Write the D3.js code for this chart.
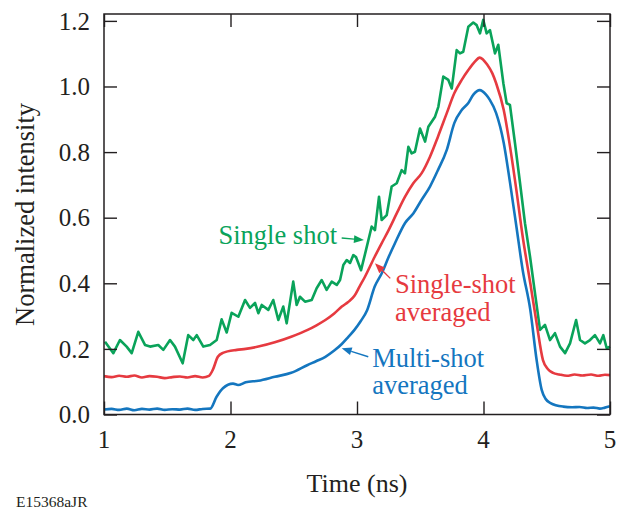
<!DOCTYPE html>
<html>
<head>
<meta charset="utf-8">
<script src="https://cdn.jsdelivr.net/npm/d3@7"></script>
<style>
  body { margin: 0; background: #fff; }
  text { font-family: "Liberation Serif", "Times New Roman", serif; fill: #231f20; }
</style>
</head>
<body>
<svg width="618" height="510"></svg>
<script>
// time (ns) / normalized intensity
var singleShotTime = [1.008, 1.074, 1.126, 1.179, 1.219, 1.271, 1.324, 1.364, 1.429, 1.469, 1.522, 1.561, 1.622, 1.666, 1.706, 1.733, 1.785, 1.838, 1.891, 1.930, 1.970, 2.009,
  2.062, 2.115, 2.154, 2.194, 2.220, 2.247, 2.299, 2.338, 2.378, 2.417, 2.444, 2.496, 2.523, 2.549, 2.589, 2.642, 2.681, 2.721, 2.760, 2.800, 2.840, 2.866, 2.892, 2.919, 2.945, 2.971,
  2.992, 3.032, 3.071, 3.116, 3.142, 3.174, 3.195, 3.235, 3.274, 3.314, 3.353, 3.379, 3.406, 3.432, 3.458, 3.498, 3.538, 3.564, 3.617, 3.643, 3.682, 3.722, 3.749, 3.788, 3.814, 3.840,
  3.880, 3.919, 3.946, 3.972, 3.998, 4.025, 4.051, 4.091, 4.117, 4.157, 4.183, 4.209, 4.249, 4.289, 4.328, 4.368, 4.407, 4.447, 4.486, 4.526, 4.565, 4.605, 4.645, 4.684, 4.732, 4.763,
  4.802, 4.842, 4.881, 4.921, 4.947, 4.974, 5.000];
var singleShot = [0.222, 0.187, 0.227, 0.207, 0.187, 0.252, 0.212, 0.207, 0.212, 0.197, 0.227, 0.207, 0.156, 0.242, 0.227, 0.242, 0.207, 0.212, 0.227, 0.290, 0.250, 0.310,
  0.298, 0.349, 0.325, 0.340, 0.309, 0.334, 0.319, 0.349, 0.288, 0.329, 0.278, 0.405, 0.334, 0.359, 0.344, 0.349, 0.385, 0.410, 0.380, 0.405, 0.395, 0.410, 0.456, 0.471, 0.462, 0.486,
  0.480, 0.440, 0.501, 0.573, 0.562, 0.664, 0.593, 0.608, 0.695, 0.705, 0.745, 0.735, 0.816, 0.796, 0.801, 0.872, 0.832, 0.877, 0.908, 0.938, 1.030, 1.020, 0.994, 1.111, 1.101, 1.106,
  1.182, 1.195, 1.187, 1.162, 1.203, 1.162, 1.172, 1.101, 1.127, 1.010, 0.949, 0.944, 0.827, 0.705, 0.583, 0.481, 0.370, 0.258, 0.273, 0.227, 0.248, 0.207, 0.187, 0.217, 0.288, 0.227,
  0.217, 0.227, 0.242, 0.217, 0.242, 0.202, 0.207];

var singleAvgTime = [1.00, 1.06, 1.12, 1.18, 1.24, 1.30, 1.36, 1.42, 1.48, 1.54, 1.60, 1.66, 1.72, 1.78, 1.83, 1.86, 1.90, 1.94, 2.05, 2.12, 2.22, 2.35, 2.48, 2.61, 2.68, 2.75, 2.82, 2.88,
  2.93, 2.98, 3.02, 3.063, 3.14, 3.195, 3.25, 3.314, 3.38, 3.445, 3.51, 3.577, 3.64, 3.709, 3.77, 3.828, 3.88, 3.93, 3.97, 4.03, 4.07, 4.10, 4.16, 4.21, 4.26, 4.31, 4.37, 4.42, 4.47,
  4.51, 4.55, 4.60, 4.66, 4.72, 4.78, 4.85, 4.91, 4.96, 5.00];
var singleAvg = [0.117, 0.114, 0.118, 0.115, 0.119, 0.113, 0.117, 0.115, 0.111, 0.114, 0.116, 0.113, 0.117, 0.113, 0.118, 0.136, 0.176, 0.188, 0.197, 0.200, 0.207, 0.220, 0.237, 0.258, 0.272, 0.288, 0.308, 0.329,
  0.343, 0.362, 0.390, 0.420, 0.481, 0.522, 0.562, 0.613, 0.664, 0.705, 0.735, 0.786, 0.847, 0.918, 0.980, 1.020, 1.050, 1.075, 1.088, 1.066, 1.040, 1.010, 0.928, 0.816, 0.684, 0.542, 0.400, 0.278, 0.166,
  0.138, 0.127, 0.122, 0.118, 0.122, 0.119, 0.122, 0.118, 0.121, 0.120];

var multiAvgTime = [1.00, 1.06, 1.12, 1.18, 1.24, 1.30, 1.36, 1.42, 1.48, 1.54, 1.60, 1.66, 1.72, 1.78, 1.84, 1.89, 1.94, 2.02, 2.06, 2.12, 2.22, 2.35, 2.48, 2.61, 2.68, 2.75, 2.82, 2.88,
  2.93, 2.98, 3.03, 3.08, 3.14, 3.195, 3.25, 3.30, 3.38, 3.445, 3.51, 3.577, 3.64, 3.709, 3.77, 3.828, 3.88, 3.92, 3.97, 4.02, 4.05, 4.10, 4.16, 4.21, 4.26, 4.31, 4.37, 4.42, 4.46,
  4.49, 4.53, 4.63, 4.70, 4.76, 4.82, 4.87, 4.92, 4.96, 5.00];
var multiAvg = [0.015, 0.017, 0.014, 0.018, 0.013, 0.017, 0.015, 0.018, 0.014, 0.016, 0.015, 0.018, 0.014, 0.017, 0.018, 0.054, 0.080, 0.094, 0.090, 0.098, 0.103, 0.115, 0.127, 0.151, 0.163, 0.176, 0.195, 0.215,
  0.236, 0.258, 0.285, 0.318, 0.390, 0.430, 0.480, 0.522, 0.584, 0.613, 0.654, 0.695, 0.745, 0.806, 0.889, 0.928, 0.950, 0.975, 0.989, 0.975, 0.959, 0.919, 0.828, 0.706, 0.573, 0.440, 0.319, 0.166, 0.075,
  0.048, 0.035, 0.024, 0.022, 0.023, 0.020, 0.021, 0.018, 0.021, 0.025];

var xTicks = [1, 2, 3, 4, 5];
var yTicks = [0, 0.2, 0.4, 0.6, 0.8, 1.0, 1.2];

var green = "#0aa35a", red = "#e63a40", blue = "#1476bf";

var svg = d3.select("svg"),
    plot = {left: 104, right: 610, top: 14, bottom: 414.5};

var x = d3.scaleLinear().domain([1, 5]).range([plot.left, plot.right]);
var y = d3.scaleLinear().domain([0, 1.221]).range([plot.bottom, plot.top]);

var line = d3.line()
    .x(function(d) { return x(d[0]); })
    .y(function(d) { return y(d[1]); });

function pairs(t, v) { return t.map(function(d, i) { return [d, v[i]]; }); }

var series = [
  {data: pairs(singleShotTime, singleShot), color: green, curve: d3.curveLinear},
  {data: pairs(singleAvgTime, singleAvg), color: red, curve: d3.curveMonotoneX},
  {data: pairs(multiAvgTime, multiAvg), color: blue, curve: d3.curveMonotoneX}
];

svg.selectAll(".series")
  .data(series)
  .enter().append("path")
    .attr("class", "series")
    .attr("fill", "none")
    .attr("stroke", function(d) { return d.color; })
    .attr("stroke-width", 2.6)
    .attr("stroke-linejoin", "round")
    .attr("d", function(d) { return line.curve(d.curve)(d.data); });

// axes, ticks pointing inward on all four sides
var tickLen = 13;
svg.append("g")
    .attr("transform", "translate(0," + plot.bottom + ")")
    .call(d3.axisTop(x).tickValues(xTicks).tickSize(tickLen).tickFormat(""));
svg.append("g")
    .attr("transform", "translate(0," + plot.top + ")")
    .call(d3.axisBottom(x).tickValues(xTicks).tickSize(tickLen).tickFormat(""));
svg.append("g")
    .attr("transform", "translate(" + plot.left + ",0)")
    .call(d3.axisRight(y).tickValues(yTicks).tickSize(tickLen).tickFormat(""));
svg.append("g")
    .attr("transform", "translate(" + plot.right + ",0)")
    .call(d3.axisLeft(y).tickValues(yTicks).tickSize(tickLen).tickFormat(""));
svg.selectAll(".domain").remove();
svg.selectAll(".tick line").attr("stroke", "#231f20").attr("stroke-width", 1.4);

svg.append("rect")
    .attr("x", plot.left).attr("y", plot.top)
    .attr("width", plot.right - plot.left).attr("height", plot.bottom - plot.top)
    .attr("fill", "none").attr("stroke", "#231f20").attr("stroke-width", 1.5);

svg.selectAll(".xlab")
  .data(xTicks)
  .enter().append("text")
    .attr("x", function(d) { return x(d); })
    .attr("y", 448)
    .attr("text-anchor", "middle")
    .style("font-size", "25px")
    .text(function(d) { return d; });

svg.selectAll(".ylab")
  .data(yTicks)
  .enter().append("text")
    .attr("x", 90)
    .attr("y", function(d) { return y(d); })
    .attr("dy", "0.35em")
    .attr("text-anchor", "end")
    .style("font-size", "25px")
    .text(function(d) { return d3.format(".1f")(d); });

svg.append("text")
    .attr("x", x(3))
    .attr("y", 492)
    .attr("text-anchor", "middle")
    .style("font-size", "26px")
    .text("Time (ns)");

svg.append("text")
    .attr("transform", "translate(34," + y(0.61) + ") rotate(-90)")
    .attr("text-anchor", "middle")
    .style("font-size", "26.5px")
    .text("Normalized intensity");

svg.append("text")
    .attr("x", 16)
    .attr("y", 507)
    .style("font-size", "15.5px")
    .text("E15368aJR");

// annotations with arrows (positions in data units)
var notes = [
  {lines: ["Single shot"], t: 2.842, v: 0.52, anchor: "end", color: green, from: [2.879, 0.538], to: [3.055, 0.532]},
  {lines: ["Single-shot", "averaged"], t: 3.300, v: 0.37, anchor: "start", color: red, from: [3.263, 0.415], to: [3.142, 0.461]},
  {lines: ["Multi-shot", "averaged"], t: 3.120, v: 0.145, anchor: "start", color: blue, from: [3.089, 0.176], to: [2.879, 0.202]}
];

notes.forEach(function(n) {
  n.lines.forEach(function(s, i) {
    svg.append("text")
        .attr("x", x(n.t))
        .attr("y", y(n.v) + i * 27.5)
        .attr("text-anchor", n.anchor)
        .style("font-size", "26.5px")
        .style("fill", n.color)
        .text(s);
  });
  var x0 = x(n.from[0]), y0 = y(n.from[1]), x1 = x(n.to[0]), y1 = y(n.to[1]);
  var a = Math.atan2(y1 - y0, x1 - x0), L = 10, W = 4;
  var bx = x1 - L * Math.cos(a), by = y1 - L * Math.sin(a);
  svg.append("line")
      .attr("x1", x0).attr("y1", y0).attr("x2", bx).attr("y2", by)
      .attr("stroke", n.color).attr("stroke-width", 1.4);
  svg.append("path")
      .attr("fill", n.color)
      .attr("d", "M" + x1 + "," + y1 +
        "L" + (bx - W * Math.sin(a)) + "," + (by + W * Math.cos(a)) +
        "L" + (bx + W * Math.sin(a)) + "," + (by - W * Math.cos(a)) + "Z");
});
</script>
</body>
</html>
